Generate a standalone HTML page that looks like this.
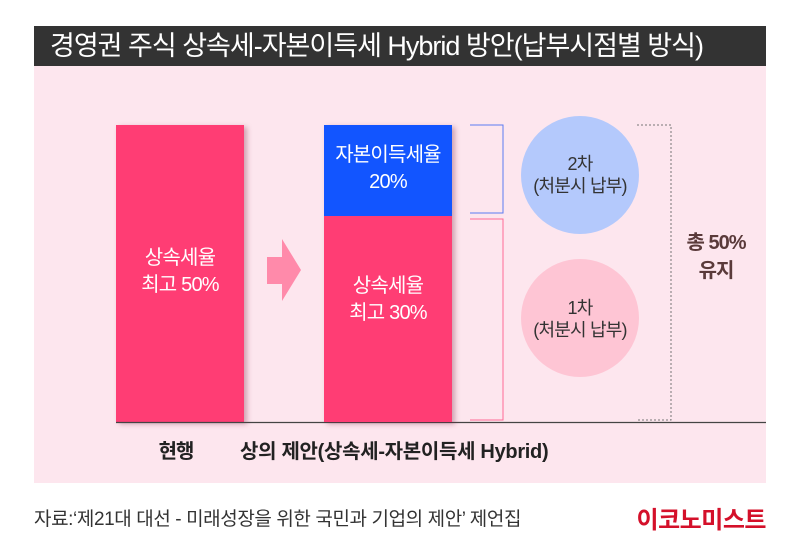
<!DOCTYPE html>
<html><head><meta charset="utf-8"><style>
body{margin:0;width:800px;height:543px;background:#fff;position:relative;font-family:"Liberation Sans","Noto Sans CJK KR",sans-serif;overflow:hidden}
.a{position:absolute;white-space:nowrap}
.t{color:#fff;text-align:center;font-size:20px;line-height:27px;letter-spacing:-0.8px}
.c{color:#333;text-align:center;font-size:18px;line-height:22px;letter-spacing:-0.8px}
</style></head><body>
<div class="a" style="left:34px;top:26px;width:732px;height:40px;background:#333;"></div>
<div class="a" style="left:50px;top:26px;line-height:40px;color:#fff;font-size:27px;letter-spacing:-1px">경영권 주식 상속세-자본이득세 Hybrid 방안(납부시점별 방식)</div>
<div class="a" style="left:34px;top:66px;width:732px;height:417px;background:#fde6ee;"></div>
<div class="a" style="left:116px;top:125px;width:128px;height:297px;background:#ff3d74;box-shadow:3px 2px 5px rgba(120,30,60,.35)"></div>
<div class="a t" style="left:116px;top:245px;width:128px">상속세율<br>최고 50%</div>
<svg class="a" style="left:0;top:0" width="800" height="543">
<polygon points="267,257 282,257 282,239 301,270 282,301 282,284 267,284" fill="#ff8aaa"/>
<polyline points="470,125 503,125 503,213 470,213" fill="none" stroke="#5b7cf2" stroke-width="1"/>
<polyline points="470,219 503,219 503,420 470,420" fill="none" stroke="#ff6b95" stroke-width="1"/>
<polyline points="637,125 671,125 671,420 637,420" fill="none" stroke="#777" stroke-width="1" stroke-dasharray="2,2"/>
<circle cx="580" cy="175" r="59" fill="#b4c9fc"/>
<circle cx="580" cy="318" r="59" fill="#fec5d4"/>
<line x1="116" y1="422.5" x2="766" y2="422.5" stroke="#444" stroke-width="1.2"/>
</svg>
<div class="a" style="left:324px;top:125px;width:128px;height:297px;background:#ff3d74;box-shadow:3px 2px 5px rgba(120,30,60,.35)"></div>
<div class="a" style="left:324px;top:125px;width:128px;height:91px;background:#1255ff"></div>
<div class="a t" style="left:324px;top:142px;width:128px">자본이득세율<br>20%</div>
<div class="a t" style="left:324px;top:273px;width:128px">상속세율<br>최고 30%</div>
<div class="a c" style="left:510px;top:153px;width:140px">2차<br>(처분시 납부)</div>
<div class="a c" style="left:510px;top:297px;width:140px">1차<br>(처분시 납부)</div>
<div class="a" style="left:671px;top:229px;width:90px;text-align:center;color:#5a3a3a;font-size:20px;line-height:28px;letter-spacing:-1px;font-weight:bold">총 50%<br>유지</div>
<div class="a" style="left:146px;top:435px;width:60px;text-align:center;font-size:20px;color:#222;letter-spacing:-1px;font-weight:bold">현행</div>
<div class="a" style="left:240px;top:435px;font-size:20px;color:#222;letter-spacing:-0.3px;font-weight:bold">상의 제안(상속세-자본이득세 Hybrid)</div>
<div class="a" style="left:34px;top:504px;font-size:19px;color:#333;letter-spacing:-0.4px">자료:‘제21대 대선 - 미래성장을 위한 국민과 기업의 제안’ 제언집</div>
<div class="a" style="right:34px;top:500px;font-size:24px;font-weight:bold;color:#d4102a;letter-spacing:-0.5px">이코노미스트</div>
</body></html>
